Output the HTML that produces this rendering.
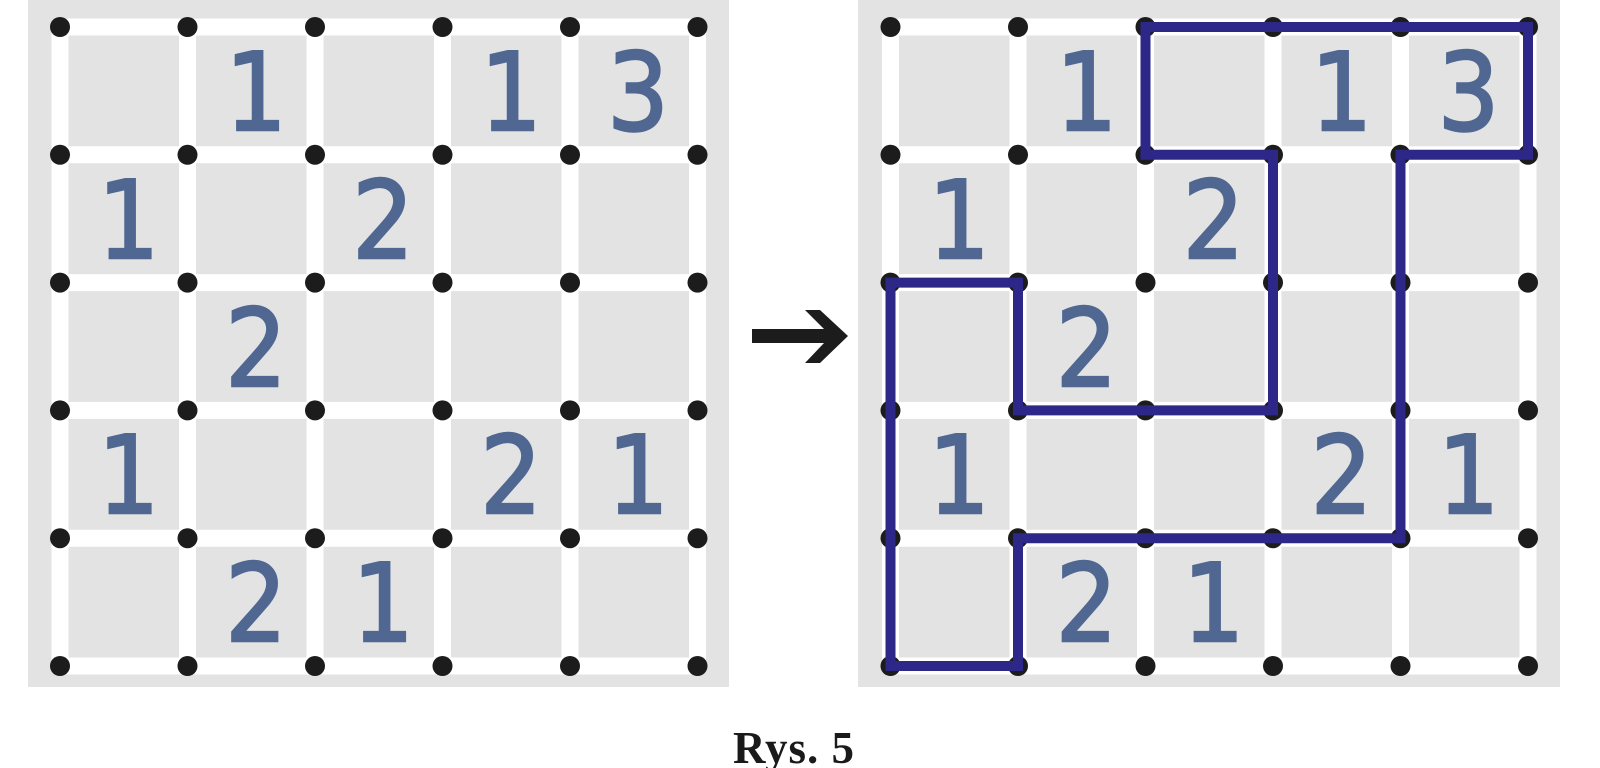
<!DOCTYPE html>
<html>
<head>
<meta charset="utf-8">
<style>
html,body{margin:0;padding:0;background:#fff;}
svg{display:block;}
.n{font-family:"DejaVu Sans","Liberation Sans",sans-serif;font-size:108px;fill:#4f6791;stroke:#4f6791;stroke-width:2.4px;text-anchor:middle;}
.cap{font-family:"Liberation Serif",serif;font-weight:bold;font-size:45px;fill:#1a1a1a;text-anchor:middle;letter-spacing:1px;}
</style>
</head>
<body>
<svg width="1600" height="768" viewBox="0 0 1600 768" xmlns="http://www.w3.org/2000/svg">
  <!-- LEFT GRID -->
  <rect x="28" y="0" width="701" height="687" fill="#e3e3e3"/>
  <g stroke="#fff" stroke-width="17" fill="none">
    <line x1="60" y1="27" x2="697.5" y2="27"/>
    <line x1="60" y1="154.8" x2="697.5" y2="154.8"/>
    <line x1="60" y1="282.6" x2="697.5" y2="282.6"/>
    <line x1="60" y1="410.4" x2="697.5" y2="410.4"/>
    <line x1="60" y1="538.2" x2="697.5" y2="538.2"/>
    <line x1="60" y1="666" x2="697.5" y2="666"/>
    <line x1="60" y1="27" x2="60" y2="666"/>
    <line x1="187.5" y1="27" x2="187.5" y2="666"/>
    <line x1="315" y1="27" x2="315" y2="666"/>
    <line x1="442.5" y1="27" x2="442.5" y2="666"/>
    <line x1="570" y1="27" x2="570" y2="666"/>
    <line x1="697.5" y1="27" x2="697.5" y2="666"/>
  </g>
  <g fill="#1c1c1c">
    <circle cx="60" cy="27" r="10"/><circle cx="187.5" cy="27" r="10"/><circle cx="315" cy="27" r="10"/><circle cx="442.5" cy="27" r="10"/><circle cx="570" cy="27" r="10"/><circle cx="697.5" cy="27" r="10"/>
    <circle cx="60" cy="154.8" r="10"/><circle cx="187.5" cy="154.8" r="10"/><circle cx="315" cy="154.8" r="10"/><circle cx="442.5" cy="154.8" r="10"/><circle cx="570" cy="154.8" r="10"/><circle cx="697.5" cy="154.8" r="10"/>
    <circle cx="60" cy="282.6" r="10"/><circle cx="187.5" cy="282.6" r="10"/><circle cx="315" cy="282.6" r="10"/><circle cx="442.5" cy="282.6" r="10"/><circle cx="570" cy="282.6" r="10"/><circle cx="697.5" cy="282.6" r="10"/>
    <circle cx="60" cy="410.4" r="10"/><circle cx="187.5" cy="410.4" r="10"/><circle cx="315" cy="410.4" r="10"/><circle cx="442.5" cy="410.4" r="10"/><circle cx="570" cy="410.4" r="10"/><circle cx="697.5" cy="410.4" r="10"/>
    <circle cx="60" cy="538.2" r="10"/><circle cx="187.5" cy="538.2" r="10"/><circle cx="315" cy="538.2" r="10"/><circle cx="442.5" cy="538.2" r="10"/><circle cx="570" cy="538.2" r="10"/><circle cx="697.5" cy="538.2" r="10"/>
    <circle cx="60" cy="666" r="10"/><circle cx="187.5" cy="666" r="10"/><circle cx="315" cy="666" r="10"/><circle cx="442.5" cy="666" r="10"/><circle cx="570" cy="666" r="10"/><circle cx="697.5" cy="666" r="10"/>
  </g>
  <g>
    <text class="n" transform="translate(256,130) scale(0.9,1)">1</text>
    <text class="n" transform="translate(511,130) scale(0.9,1)">1</text>
    <text class="n" transform="translate(638,130) scale(0.9,1)">3</text>
    <text class="n" transform="translate(128.5,258) scale(0.9,1)">1</text>
    <text class="n" transform="translate(383,258) scale(0.9,1)">2</text>
    <text class="n" transform="translate(256,386) scale(0.9,1)">2</text>
    <text class="n" transform="translate(128.5,513) scale(0.9,1)">1</text>
    <text class="n" transform="translate(511,513) scale(0.9,1)">2</text>
    <text class="n" transform="translate(638,513) scale(0.9,1)">1</text>
    <text class="n" transform="translate(256,641) scale(0.9,1)">2</text>
    <text class="n" transform="translate(383,641) scale(0.9,1)">1</text>
  </g>

  <!-- ARROW -->
  <polygon points="752,329 824,329 805,310 820,310 848,336 820,363 805,363 824,343 752,343" fill="#1c1c1c"/>

  <!-- RIGHT GRID -->
  <rect x="858" y="0" width="702" height="687" fill="#e3e3e3"/>
  <g stroke="#fff" stroke-width="17" fill="none">
    <line x1="890.5" y1="27" x2="1528" y2="27"/>
    <line x1="890.5" y1="154.8" x2="1528" y2="154.8"/>
    <line x1="890.5" y1="282.6" x2="1528" y2="282.6"/>
    <line x1="890.5" y1="410.4" x2="1528" y2="410.4"/>
    <line x1="890.5" y1="538.2" x2="1528" y2="538.2"/>
    <line x1="890.5" y1="666" x2="1528" y2="666"/>
    <line x1="890.5" y1="27" x2="890.5" y2="666"/>
    <line x1="1018" y1="27" x2="1018" y2="666"/>
    <line x1="1145.5" y1="27" x2="1145.5" y2="666"/>
    <line x1="1273" y1="27" x2="1273" y2="666"/>
    <line x1="1400.5" y1="27" x2="1400.5" y2="666"/>
    <line x1="1528" y1="27" x2="1528" y2="666"/>
  </g>
  <g fill="#1c1c1c">
    <circle cx="890.5" cy="27" r="10"/><circle cx="1018" cy="27" r="10"/><circle cx="1145.5" cy="27" r="10"/><circle cx="1273" cy="27" r="10"/><circle cx="1400.5" cy="27" r="10"/><circle cx="1528" cy="27" r="10"/>
    <circle cx="890.5" cy="154.8" r="10"/><circle cx="1018" cy="154.8" r="10"/><circle cx="1145.5" cy="154.8" r="10"/><circle cx="1273" cy="154.8" r="10"/><circle cx="1400.5" cy="154.8" r="10"/><circle cx="1528" cy="154.8" r="10"/>
    <circle cx="890.5" cy="282.6" r="10"/><circle cx="1018" cy="282.6" r="10"/><circle cx="1145.5" cy="282.6" r="10"/><circle cx="1273" cy="282.6" r="10"/><circle cx="1400.5" cy="282.6" r="10"/><circle cx="1528" cy="282.6" r="10"/>
    <circle cx="890.5" cy="410.4" r="10"/><circle cx="1018" cy="410.4" r="10"/><circle cx="1145.5" cy="410.4" r="10"/><circle cx="1273" cy="410.4" r="10"/><circle cx="1400.5" cy="410.4" r="10"/><circle cx="1528" cy="410.4" r="10"/>
    <circle cx="890.5" cy="538.2" r="10"/><circle cx="1018" cy="538.2" r="10"/><circle cx="1145.5" cy="538.2" r="10"/><circle cx="1273" cy="538.2" r="10"/><circle cx="1400.5" cy="538.2" r="10"/><circle cx="1528" cy="538.2" r="10"/>
    <circle cx="890.5" cy="666" r="10"/><circle cx="1018" cy="666" r="10"/><circle cx="1145.5" cy="666" r="10"/><circle cx="1273" cy="666" r="10"/><circle cx="1400.5" cy="666" r="10"/><circle cx="1528" cy="666" r="10"/>
  </g>
  <g>
    <text class="n" transform="translate(1086.5,130) scale(0.9,1)">1</text>
    <text class="n" transform="translate(1341.5,130) scale(0.9,1)">1</text>
    <text class="n" transform="translate(1468.5,130) scale(0.9,1)">3</text>
    <text class="n" transform="translate(959,258) scale(0.9,1)">1</text>
    <text class="n" transform="translate(1213.5,258) scale(0.9,1)">2</text>
    <text class="n" transform="translate(1086.5,386) scale(0.9,1)">2</text>
    <text class="n" transform="translate(959,513) scale(0.9,1)">1</text>
    <text class="n" transform="translate(1341.5,513) scale(0.9,1)">2</text>
    <text class="n" transform="translate(1468.5,513) scale(0.9,1)">1</text>
    <text class="n" transform="translate(1086.5,641) scale(0.9,1)">2</text>
    <text class="n" transform="translate(1213.5,641) scale(0.9,1)">1</text>
  </g>
  <polygon points="1145.5,27 1528,27 1528,154.8 1400.5,154.8 1400.5,538.2 1018,538.2 1018,666 890.5,666 890.5,282.6 1018,282.6 1018,410.4 1273,410.4 1273,154.8 1145.5,154.8"
    fill="none" stroke="#2d2888" stroke-width="10" stroke-linejoin="miter"/>

  <!-- CAPTION -->
  <text class="cap" x="794" y="763">Rys. 5</text>
</svg>
</body>
</html>
